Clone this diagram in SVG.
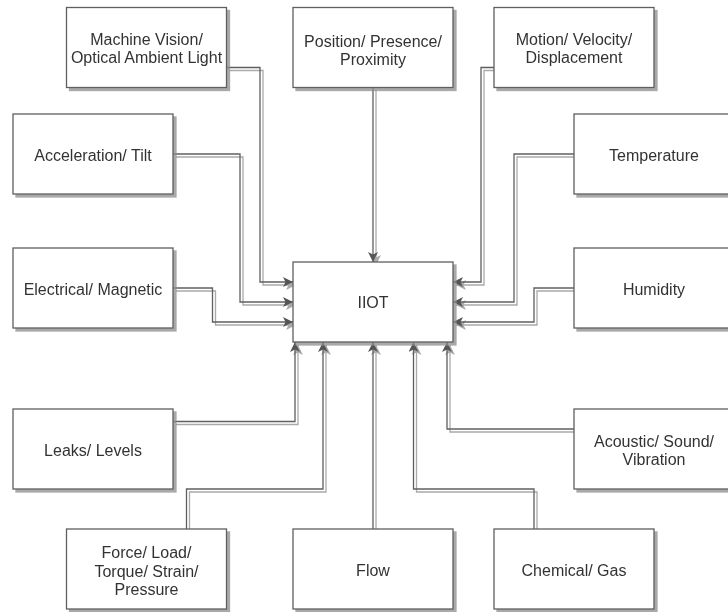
<svg xmlns="http://www.w3.org/2000/svg" width="728" height="612" viewBox="0 0 728 612">
  <defs>
    <filter id="shadow" x="-10%" y="-10%" width="130%" height="130%">
      <feOffset in="SourceAlpha" dx="3" dy="3" result="off"/>
      <feFlood flood-color="#8c8c8c" flood-opacity="0.75"/>
      <feComposite in2="off" operator="in" result="sh"/>
      <feMerge>
        <feMergeNode in="sh"/>
        <feMergeNode in="SourceGraphic"/>
      </feMerge>
    </filter>
    <marker id="arrow" markerUnits="userSpaceOnUse" markerWidth="12" markerHeight="12" refX="10" refY="5" orient="auto">
      <path d="M0,0 L10,5 L0,10 L2.5,5 Z" fill="#555555"/>
    </marker>
  </defs>
  <style>
    .box { fill: #ffffff; stroke: #5f5f5f; stroke-width: 1.3; }
    .lbl { font-family: "Liberation Sans", Arial, Helvetica, sans-serif; font-size: 16px; fill: #333333; text-anchor: middle; }
    .edge { fill: none; stroke: #5f5f5f; stroke-width: 1.3; marker-end: url(#arrow); }
  </style>
  <rect width="728" height="612" fill="#ffffff"/>

  <!-- connectors -->
  <g id="connectors" filter="url(#shadow)">
    <path class="edge" d="M226.5,67.5 H260 V282 H293"/>
    <path class="edge" d="M173,154 H240 V302 H293"/>
    <path class="edge" d="M173,288 H212.5 V322 H293"/>
    <path class="edge" d="M373,87.5 V262"/>
    <path class="edge" d="M494,67.5 H481 V282 H453"/>
    <path class="edge" d="M574,154 H514 V302 H453"/>
    <path class="edge" d="M574,288 H534 V322 H453"/>
    <path class="edge" d="M173,421.5 H295 V342"/>
    <path class="edge" d="M186.5,529 V489 H323 V342"/>
    <path class="edge" d="M373,529 V342"/>
    <path class="edge" d="M534,529 V489 H413.5 V342"/>
    <path class="edge" d="M574,429 H447 V342"/>
  </g>

  <!-- nodes -->
  <g id="machine-vision" filter="url(#shadow)">
    <rect class="box" x="66.5" y="7.5" width="160" height="80"/>
    <text class="lbl" x="146.5" y="45">Machine Vision/</text>
    <text class="lbl" x="146.5" y="63">Optical Ambient Light</text>
  </g>
  <g id="position" filter="url(#shadow)">
    <rect class="box" x="293" y="7.5" width="160" height="80"/>
    <text class="lbl" x="373" y="47">Position/ Presence/</text>
    <text class="lbl" x="373" y="65">Proximity</text>
  </g>
  <g id="motion" filter="url(#shadow)">
    <rect class="box" x="494" y="7.5" width="160" height="80"/>
    <text class="lbl" x="574" y="45">Motion/ Velocity/</text>
    <text class="lbl" x="574" y="63">Displacement</text>
  </g>
  <g id="acceleration" filter="url(#shadow)">
    <rect class="box" x="13" y="114" width="160" height="80"/>
    <text class="lbl" x="93" y="161">Acceleration/ Tilt</text>
  </g>
  <g id="temperature" filter="url(#shadow)">
    <rect class="box" x="574" y="114" width="160" height="80"/>
    <text class="lbl" x="654" y="161">Temperature</text>
  </g>
  <g id="electrical" filter="url(#shadow)">
    <rect class="box" x="13" y="248" width="160" height="80"/>
    <text class="lbl" x="93" y="295">Electrical/ Magnetic</text>
  </g>
  <g id="humidity" filter="url(#shadow)">
    <rect class="box" x="574" y="248" width="160" height="80"/>
    <text class="lbl" x="654" y="295">Humidity</text>
  </g>
  <g id="iiot" filter="url(#shadow)">
    <rect class="box" x="293" y="262" width="160" height="80"/>
    <text class="lbl" x="373" y="308">IIOT</text>
  </g>
  <g id="leaks" filter="url(#shadow)">
    <rect class="box" x="13" y="409" width="160" height="80"/>
    <text class="lbl" x="93" y="456">Leaks/ Levels</text>
  </g>
  <g id="acoustic" filter="url(#shadow)">
    <rect class="box" x="574" y="409" width="160" height="80"/>
    <text class="lbl" x="654" y="447">Acoustic/ Sound/</text>
    <text class="lbl" x="654" y="465">Vibration</text>
  </g>
  <g id="force" filter="url(#shadow)">
    <rect class="box" x="66.5" y="529" width="160" height="80"/>
    <text class="lbl" x="146.5" y="558">Force/ Load/</text>
    <text class="lbl" x="146.5" y="576.5">Torque/ Strain/</text>
    <text class="lbl" x="146.5" y="595">Pressure</text>
  </g>
  <g id="flow" filter="url(#shadow)">
    <rect class="box" x="293" y="529" width="160" height="80"/>
    <text class="lbl" x="373" y="576">Flow</text>
  </g>
  <g id="chemical" filter="url(#shadow)">
    <rect class="box" x="494" y="529" width="160" height="80"/>
    <text class="lbl" x="574" y="576">Chemical/ Gas</text>
  </g>
</svg>
